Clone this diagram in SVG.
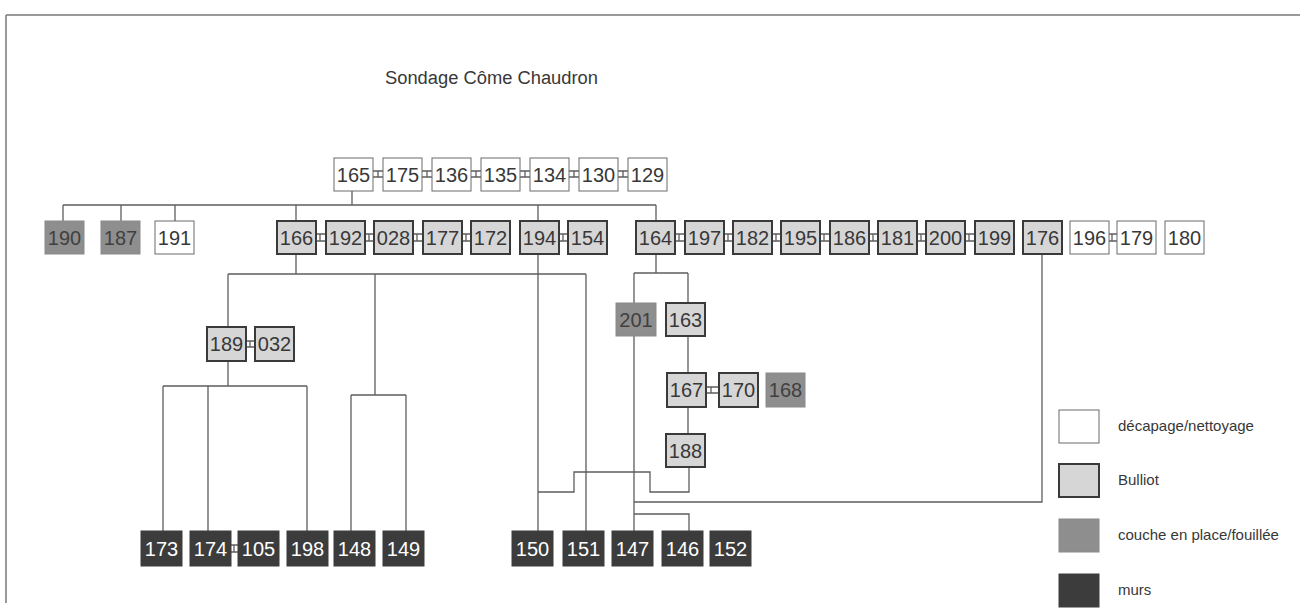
<svg xmlns="http://www.w3.org/2000/svg" width="1300" height="612" viewBox="0 0 1300 612">
<style>
text{font-family:"Liberation Sans",Arial,sans-serif;fill:#383838}
.n text{font-size:20px;text-anchor:middle}
.w rect{fill:#fff;stroke:#6a6a6a;stroke-width:1}
.b rect{fill:#d6d6d6;stroke:#3a3a3a;stroke-width:2}
.c rect{fill:#8e8e8e;stroke:#8a8a8a;stroke-width:1}
.m rect{fill:#3c3c3c;stroke:#3c3c3c;stroke-width:1}
.m text{fill:#fff}
.c text{fill:#404040}
#connectors path{fill:none;stroke:#5e5e5e;stroke-width:1.3}
.lg{font-size:15px}
</style>
<rect width="1300" height="612" fill="#fff"/>
<path d="M6,15H1300M6,15V603" fill="none" stroke="#7a7a7a" stroke-width="1.5"/>
<text x="385" y="84" font-size="18" textLength="213" lengthAdjust="spacingAndGlyphs">Sondage Côme Chaudron</text>

<g id="connectors">
<path d="M352,191V205M63,205H656M63,205V221M121,205V221M175,205V221M296,205V221M538,205V221M656,205V221"/>
<path d="M373,171H383M373,177H383M378,171V177M422,171H432M422,177H432M427,171V177M471,171H481M471,177H481M476,171V177M520,171H530M520,177H530M525,171V177M569,171H579M569,177H579M574,171V177M618,171H628M618,177H628M623,171V177"/>
<path d="M316,234H326M316,241H326M320,234V241M365,234H374M365,241H374M369,234V241M413,234H423M413,241H423M417,234V241M462,234H471M462,241H471M466,234V241M559,234H568M559,241H568M563,234V241"/>
<path d="M675,234H685M675,241H685M679,234V241M724,234H733M724,241H733M728,234V241M772,234H781M772,241H781M776,234V241M820,234H830M820,241H830M824,234V241M869,234H878M869,241H878M873,234V241M917,234H926M917,241H926M921,234V241M965,234H975M965,241H975M969,234V241M1109,234H1117M1109,241H1117M1112,234V241"/>
<path d="M296,255V274M228,274H586M228,274V327M375,274V395M586,274V531"/>
<path d="M228,361V386M163,386H307M163,386V531M208,386V531M307,386V531M351,395H406M351,395V531M406,395V531"/>
<path d="M246,341H255M246,347H255M250,341V347M706,387H719M706,393H719M711,387V393M231,545H238M231,552H238M234,545V552"/>
<path d="M538,255V531M656,255V273M634,273H688M634,273V303M688,273V303M634,336V531M688,336V373M688,407V434"/>
<path d="M689,467V492H650V472H574V492H538M1042,255V502H634M634,514H689V531"/>
</g>

<g class="n">
<g id="n165" class="w"><rect x="334" y="158" width="39" height="33"/><text x="353.5" y="181.5">165</text></g>
<g id="n175" class="w"><rect x="383" y="158" width="39" height="33"/><text x="402.5" y="181.5">175</text></g>
<g id="n136" class="w"><rect x="432" y="158" width="39" height="33"/><text x="451.5" y="181.5">136</text></g>
<g id="n135" class="w"><rect x="481" y="158" width="39" height="33"/><text x="500.5" y="181.5">135</text></g>
<g id="n134" class="w"><rect x="530" y="158" width="39" height="33"/><text x="549.5" y="181.5">134</text></g>
<g id="n130" class="w"><rect x="579" y="158" width="39" height="33"/><text x="598.5" y="181.5">130</text></g>
<g id="n129" class="w"><rect x="628" y="158" width="39" height="33"/><text x="647.5" y="181.5">129</text></g>

<g id="n190" class="c"><rect x="45" y="221" width="39" height="33"/><text x="64.5" y="244.5">190</text></g>
<g id="n187" class="c"><rect x="101" y="221" width="39" height="33"/><text x="120.5" y="244.5">187</text></g>
<g id="n191" class="w"><rect x="155" y="221" width="39" height="33"/><text x="174.5" y="244.5">191</text></g>
<g id="n166" class="b"><rect x="277" y="221" width="39" height="33"/><text x="296.5" y="244.5">166</text></g>
<g id="n192" class="b"><rect x="326" y="221" width="39" height="33"/><text x="345.5" y="244.5">192</text></g>
<g id="n028" class="b"><rect x="374" y="221" width="39" height="33"/><text x="393.5" y="244.5">028</text></g>
<g id="n177" class="b"><rect x="423" y="221" width="39" height="33"/><text x="442.5" y="244.5">177</text></g>
<g id="n172" class="b"><rect x="471" y="221" width="39" height="33"/><text x="490.5" y="244.5">172</text></g>
<g id="n194" class="b"><rect x="520" y="221" width="39" height="33"/><text x="539.5" y="244.5">194</text></g>
<g id="n154" class="b"><rect x="568" y="221" width="39" height="33"/><text x="587.5" y="244.5">154</text></g>
<g id="n164" class="b"><rect x="636" y="221" width="39" height="33"/><text x="655.5" y="244.5">164</text></g>
<g id="n197" class="b"><rect x="685" y="221" width="39" height="33"/><text x="704.5" y="244.5">197</text></g>
<g id="n182" class="b"><rect x="733" y="221" width="39" height="33"/><text x="752.5" y="244.5">182</text></g>
<g id="n195" class="b"><rect x="781" y="221" width="39" height="33"/><text x="800.5" y="244.5">195</text></g>
<g id="n186" class="b"><rect x="830" y="221" width="39" height="33"/><text x="849.5" y="244.5">186</text></g>
<g id="n181" class="b"><rect x="878" y="221" width="39" height="33"/><text x="897.5" y="244.5">181</text></g>
<g id="n200" class="b"><rect x="926" y="221" width="39" height="33"/><text x="945.5" y="244.5">200</text></g>
<g id="n199" class="b"><rect x="975" y="221" width="39" height="33"/><text x="994.5" y="244.5">199</text></g>
<g id="n176" class="b"><rect x="1023" y="221" width="39" height="33"/><text x="1042.5" y="244.5">176</text></g>
<g id="n196" class="w"><rect x="1070" y="221" width="39" height="33"/><text x="1089.5" y="244.5">196</text></g>
<g id="n179" class="w"><rect x="1117" y="221" width="39" height="33"/><text x="1136.5" y="244.5">179</text></g>
<g id="n180" class="w"><rect x="1165" y="221" width="39" height="33"/><text x="1184.5" y="244.5">180</text></g>

<g id="n189" class="b"><rect x="207" y="327" width="39" height="34"/><text x="226.5" y="351">189</text></g>
<g id="n032" class="b"><rect x="255" y="327" width="39" height="34"/><text x="274.5" y="351">032</text></g>
<g id="n201" class="c"><rect x="616" y="303" width="40" height="33"/><text x="636" y="326.5">201</text></g>
<g id="n163" class="b"><rect x="666" y="303" width="39" height="33"/><text x="685.5" y="326.5">163</text></g>
<g id="n167" class="b"><rect x="667" y="373" width="39" height="34"/><text x="686.5" y="397">167</text></g>
<g id="n170" class="b"><rect x="719" y="373" width="39" height="34"/><text x="738.5" y="397">170</text></g>
<g id="n168" class="c"><rect x="766" y="373" width="39" height="34"/><text x="785.5" y="397">168</text></g>
<g id="n188" class="b"><rect x="666" y="434" width="39" height="33"/><text x="685.5" y="457.5">188</text></g>

<g id="n173" class="m"><rect x="141" y="531" width="41" height="35"/><text x="161.5" y="555.5">173</text></g>
<g id="n174" class="m"><rect x="190" y="531" width="41" height="35"/><text x="210.5" y="555.5">174</text></g>
<g id="n105" class="m"><rect x="238" y="531" width="41" height="35"/><text x="258.5" y="555.5">105</text></g>
<g id="n198" class="m"><rect x="287" y="531" width="41" height="35"/><text x="307.5" y="555.5">198</text></g>
<g id="n148" class="m"><rect x="334" y="531" width="41" height="35"/><text x="354.5" y="555.5">148</text></g>
<g id="n149" class="m"><rect x="383" y="531" width="41" height="35"/><text x="403.5" y="555.5">149</text></g>
<g id="n150" class="m"><rect x="512" y="531" width="41" height="35"/><text x="532.5" y="555.5">150</text></g>
<g id="n151" class="m"><rect x="563" y="531" width="41" height="35"/><text x="583.5" y="555.5">151</text></g>
<g id="n147" class="m"><rect x="612" y="531" width="41" height="35"/><text x="632.5" y="555.5">147</text></g>
<g id="n146" class="m"><rect x="662" y="531" width="41" height="35"/><text x="682.5" y="555.5">146</text></g>
<g id="n152" class="m"><rect x="710" y="531" width="41" height="35"/><text x="730.5" y="555.5">152</text></g>
</g>

<g id="legend">
<g class="w"><rect x="1059" y="410" width="40" height="33"/></g>
<text class="lg" x="1118" y="431">décapage/nettoyage</text>
<g class="b"><rect x="1059" y="464" width="40" height="33"/></g>
<text class="lg" x="1118" y="485">Bulliot</text>
<g class="c"><rect x="1059" y="519" width="40" height="33"/></g>
<text class="lg" x="1118" y="540">couche en place/fouillée</text>
<g class="m"><rect x="1059" y="574" width="40" height="33"/></g>
<text class="lg" x="1118" y="595">murs</text>
</g>
</svg>
